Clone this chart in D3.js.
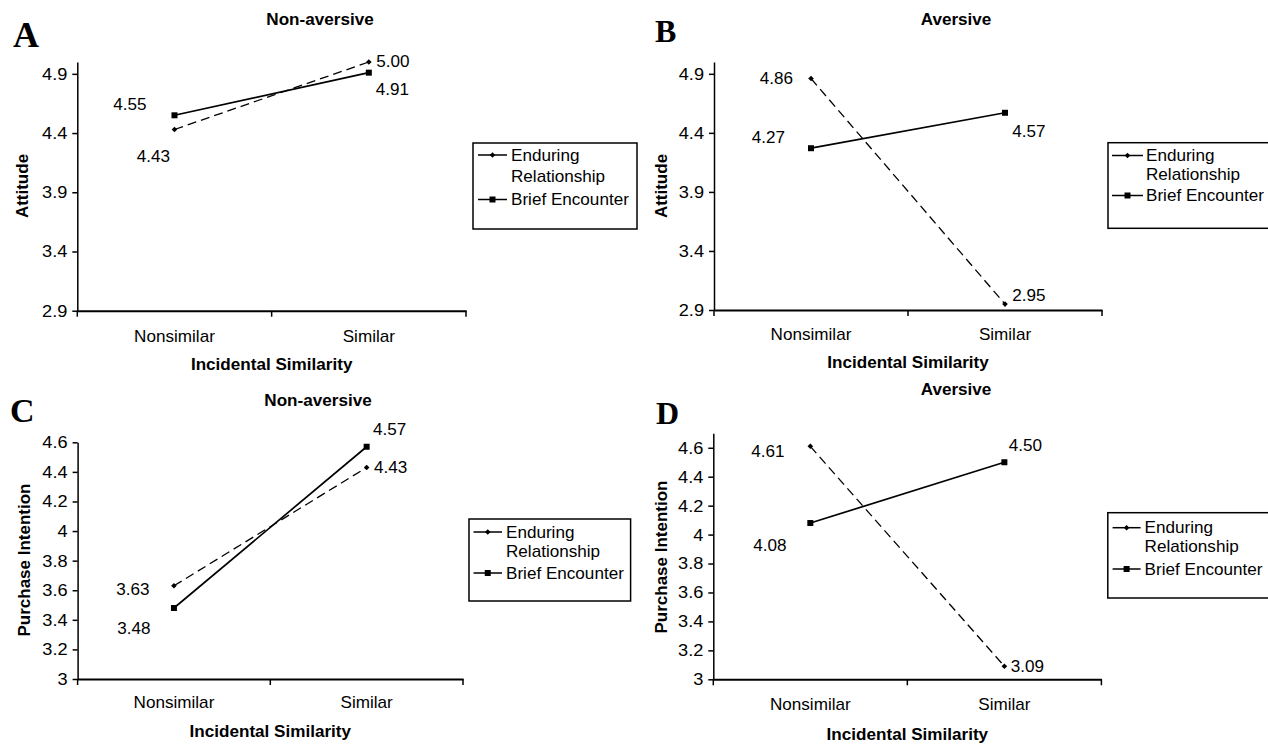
<!DOCTYPE html>
<html>
<head>
<meta charset="utf-8">
<script src="https://cdnjs.cloudflare.com/ajax/libs/d3/7.8.5/d3.min.js"></script>
<style>
  body { margin: 0; background: #fff; }
  svg { display: block; }
</style>
</head>
<body>
<script>
/* global d3 */

// ---- data ----
const categories = ['Nonsimilar', 'Similar'];
const legendLines = [['Enduring', 'Relationship'], ['Brief Encounter']];

const attitudeTicks = [2.9, 3.4, 3.9, 4.4, 4.9];
const purchaseTicks = [3, 3.2, 3.4, 3.6, 3.8, 4, 4.2, 4.4, 4.6];

const attNonAvEnduring = [4.43, 5.00];
const attNonAvBrief = [4.55, 4.91];
const attAvEnduring = [4.86, 2.95];
const attAvBrief = [4.27, 4.57];
const purNonAvEnduring = [3.63, 4.43];
const purNonAvBrief = [3.48, 4.57];
const purAvEnduring = [4.61, 3.09];
const purAvBrief = [4.08, 4.50];

const width = 1268;
const height = 745;
const SX = 1.07; // the scanned text is a bit wide
const sans = '"Liberation Sans", Arial, Helvetica, sans-serif';
const serif = '"Liberation Serif", "Times New Roman", serif';

// layout per panel: axis box, text positions, label offsets [dx, dy]
const panels = [
  {
    letter: 'A', letterPos: [13, 47], letterSize: 36,
    title: 'Non-aversive', titlePos: [320, 25],
    yLabel: 'Attitude', yLabelPos: [28, 186],
    domain: [2.9, 5.0], ticks: attitudeTicks, fmt: d3.format('.1f'),
    x0: 77.3, x1: 466, yTop: 62, yBot: 310.7,
    tickBase: 31, titleBase: 59.5,
    enduring: attNonAvEnduring, brief: attNonAvBrief,
    endOff: [[-21, 27], [24, -1]], briefOff: [[-44.5, -11], [23.5, 16.5]],
    legend: { x: 473, y: 143, w: 164, h: 86, m0: 478, m1: 507, tx: 511, rows: [155, 176, 199.5] },
  },
  {
    letter: 'B', letterPos: [655, 42], letterSize: 32,
    title: 'Aversive', titlePos: [956, 25],
    yLabel: 'Attitude', yLabelPos: [667, 186],
    domain: [2.9, 5.0], ticks: attitudeTicks, fmt: d3.format('.1f'),
    x0: 714, x1: 1102, yTop: 62, yBot: 310,
    tickBase: 30, titleBase: 58,
    enduring: attAvEnduring, brief: attAvBrief,
    endOff: [[-34.5, 0], [24, -9]], briefOff: [[-42.5, -11], [24, 19]],
    legend: { x: 1108, y: 142.7, w: 180, h: 85.6, m0: 1112, m1: 1143, tx: 1146, rows: [155.5, 174.5, 195.5] },
  },
  {
    letter: 'C', letterPos: [10, 422], letterSize: 34,
    title: 'Non-aversive', titlePos: [318, 406],
    yLabel: 'Purchase Intention', yLabelPos: [30, 560],
    domain: [3, 4.6], ticks: purchaseTicks, fmt: d => String(+d.toFixed(1)),
    x0: 77.6, x1: 463, yTop: 442.3, yBot: 679,
    tickBase: 29.5, titleBase: 58,
    enduring: purNonAvEnduring, brief: purNonAvBrief,
    endOff: [[-41, 4], [24, 0]], briefOff: [[-40, 20], [23, -17]],
    legend: { x: 469, y: 519, w: 161.6, h: 82, m0: 473.5, m1: 502, tx: 506, rows: [532, 551, 573] },
  },
  {
    letter: 'D', letterPos: [656, 424], letterSize: 32,
    title: 'Aversive', titlePos: [956, 395],
    yLabel: 'Purchase Intention', yLabelPos: [667, 557],
    domain: [3, 4.7], ticks: purchaseTicks, fmt: d => String(+d.toFixed(1)),
    x0: 713.3, x1: 1101.4, yTop: 433.3, yBot: 679.3,
    tickBase: 31, titleBase: 60.5,
    enduring: purAvEnduring, brief: purAvBrief,
    endOff: [[-42.5, 5], [23, 0]], briefOff: [[-40.5, 22], [21, -17]],
    legend: { x: 1107.8, y: 512.7, w: 180, h: 85.3, m0: 1112.6, m1: 1140.6, tx: 1144.6, rows: [527.7, 546.5, 569] },
  },
];

const svg = d3.select('body').append('svg')
  .attr('width', width)
  .attr('height', height)
  .style('background', '#fff');

function txt(g, x, y, str, opts = {}) {
  return g.append('text')
    .attr('transform', `translate(${x},${y}) scale(${opts.sx || SX},1)`)
    .attr('text-anchor', opts.anchor || 'middle')
    .attr('dy', opts.dy || 0)
    .style('font-family', opts.family || sans)
    .style('font-size', `${opts.size || 16}px`)
    .style('font-weight', opts.bold ? 'bold' : 'normal')
    .style('fill', '#000')
    .text(str);
}

function diamond(g, cx, cy) {
  g.append('path')
    .attr('d', 'M0,-2.8L2.8,0L0,2.8L-2.8,0Z')
    .attr('transform', `translate(${cx},${cy})`)
    .attr('fill', '#000');
}

function square(g, cx, cy) {
  g.append('rect')
    .attr('x', cx - 3).attr('y', cy - 3)
    .attr('width', 6).attr('height', 6)
    .attr('fill', '#000');
}

panels.forEach((p) => {
  const g = svg.append('g');

  const x = d3.scaleBand().domain(categories).range([p.x0, p.x1]);
  const y = d3.scaleLinear().domain(p.domain).range([p.yBot, p.yTop]);
  const cx = c => x(c) + x.bandwidth() / 2;

  // letter + title
  txt(g, p.letterPos[0], p.letterPos[1], p.letter, { anchor: 'start', family: serif, size: p.letterSize, bold: true, sx: 1 });
  txt(g, p.titlePos[0], p.titlePos[1], p.title, { bold: true });

  // y axis
  const yAxis = g.append('g')
    .attr('transform', `translate(${p.x0},0)`)
    .call(d3.axisLeft(y).tickValues(p.ticks).tickFormat(p.fmt).tickSize(5).tickPadding(5).tickSizeOuter(0));
  yAxis.selectAll('path, line').attr('stroke', '#000').attr('stroke-width', 1.5);
  yAxis.selectAll('text')
    .style('font-family', sans).style('font-size', '17px').attr('fill', '#000')
    .attr('transform', `scale(${SX},1)`).attr('x', -10 / SX);

  // x axis
  const xAxis = g.append('g')
    .attr('transform', `translate(0,${p.yBot})`)
    .call(d3.axisBottom(x).tickSize(0).tickPadding(p.tickBase - 11.4).tickSizeOuter(0));
  xAxis.select('path').attr('stroke', '#000').attr('stroke-width', 2);
  xAxis.selectAll('text')
    .style('font-family', sans).style('font-size', '16px').attr('fill', '#000')
    .attr('transform', `scale(${SX},1)`);
  const edges = [x.range()[0], x(categories[1]), x.range()[1]];
  xAxis.selectAll('.edge').data(edges).enter().append('line')
    .attr('class', 'edge')
    .attr('x1', d => d).attr('x2', d => d)
    .attr('y1', 0).attr('y2', 6)
    .attr('stroke', '#000').attr('stroke-width', 1.5);

  txt(g, (p.x0 + p.x1) / 2, p.yBot + p.titleBase, 'Incidental Similarity', { bold: true });

  // y label
  g.append('text')
    .attr('transform', `translate(${p.yLabelPos[0]},${p.yLabelPos[1]}) rotate(-90)`)
    .attr('text-anchor', 'middle')
    .style('font-family', sans).style('font-size', '17px').style('font-weight', 'bold')
    .text(p.yLabel);

  // lines
  const line = d3.line().x((v, i) => cx(categories[i])).y(v => y(v));
  g.append('path').datum(p.enduring)
    .attr('d', line).attr('fill', 'none')
    .attr('stroke', '#000').attr('stroke-width', 1.3).attr('stroke-dasharray', '9,5');
  g.append('path').datum(p.brief)
    .attr('d', line).attr('fill', 'none')
    .attr('stroke', '#000').attr('stroke-width', 1.7);

  p.enduring.forEach((v, i) => {
    diamond(g, cx(categories[i]), y(v));
    txt(g, cx(categories[i]) + p.endOff[i][0], y(v) + p.endOff[i][1], v.toFixed(2), { dy: '0.35em' });
  });
  p.brief.forEach((v, i) => {
    square(g, cx(categories[i]), y(v));
    txt(g, cx(categories[i]) + p.briefOff[i][0], y(v) + p.briefOff[i][1], v.toFixed(2), { dy: '0.35em' });
  });

  // legend
  const L = p.legend;
  g.append('rect')
    .attr('x', L.x).attr('y', L.y).attr('width', L.w).attr('height', L.h)
    .attr('fill', '#fff').attr('stroke', '#000').attr('stroke-width', 1.5);
  const lgRows = [L.rows[0], L.rows[2]];
  lgRows.forEach((ry, k) => {
    g.append('line')
      .attr('x1', L.m0).attr('x2', L.m1).attr('y1', ry).attr('y2', ry)
      .attr('stroke', '#000').attr('stroke-width', 1.5);
    if (k === 0) diamond(g, (L.m0 + L.m1) / 2, ry);
    else square(g, (L.m0 + L.m1) / 2, ry);
  });
  txt(g, L.tx, L.rows[0], legendLines[0][0], { anchor: 'start', dy: '0.35em' });
  txt(g, L.tx, L.rows[1], legendLines[0][1], { anchor: 'start', dy: '0.35em' });
  txt(g, L.tx, L.rows[2], legendLines[1][0], { anchor: 'start', dy: '0.35em' });
});
</script>
</body>
</html>
